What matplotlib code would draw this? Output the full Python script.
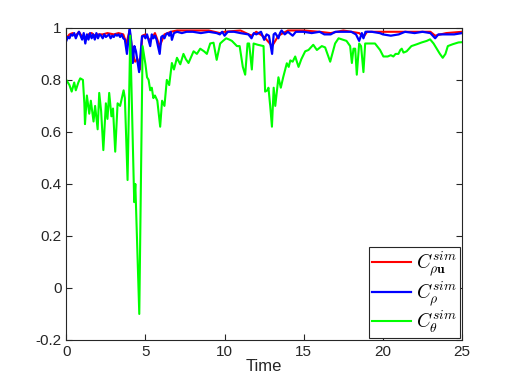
import numpy as np
import matplotlib
matplotlib.use("Agg")
import matplotlib.pyplot as plt

plt.rcParams['font.family'] = ['Liberation Sans', 'DejaVu Sans']
plt.rcParams['mathtext.fontset'] = 'cm'

# ------------------------
# Data
# ------------------------
t_green = [0.0, 0.2, 0.34, 0.5, 0.6, 0.76, 0.88, 1.05, 1.14, 1.18, 1.3, 1.45, 1.55, 1.72,
           1.82, 1.98, 2.08, 2.2, 2.34, 2.5, 2.6, 2.71, 2.85, 2.95, 3.09, 3.24, 3.4, 3.62,
           3.7, 3.87, 4.04, 4.29, 4.36, 4.61, 4.82, 5.0, 5.1, 5.2, 5.3, 5.4, 5.5, 5.6, 5.75,
           5.93, 6.05, 6.2, 6.35, 6.5, 6.67, 6.8, 6.99, 7.2, 7.4, 7.55, 7.72, 8.04, 8.25,
           8.46, 8.7, 8.88, 9.09, 9.3, 9.5, 9.72, 9.9, 10.1, 10.3, 10.46, 10.78, 10.95, 11.15,
           11.3, 11.45, 11.55, 11.72, 11.83, 12.1, 12.46, 12.56, 12.7, 12.77, 12.88, 12.99,
           13.1, 13.2, 13.4, 13.55, 13.7, 13.93, 14.05, 14.15, 14.3, 14.46, 14.67, 14.85,
           15.09, 15.3, 15.6, 15.83, 16.14, 16.35, 16.67, 16.98, 17.2, 17.45, 17.7, 17.93,
           18.04, 18.14, 18.25, 18.35, 18.5, 18.62, 18.77, 18.88, 19.2, 19.5, 19.82, 20.03,
           20.3, 20.5, 20.66, 20.8, 20.98, 21.1, 21.19, 21.3, 21.5, 21.8, 22.14, 22.45, 22.77,
           22.98, 23.2, 23.4, 23.6, 23.78, 23.95, 24.1, 24.4, 24.77, 25.0]
c_theta = [0.80, 0.78, 0.755, 0.79, 0.76, 0.79, 0.806, 0.80, 0.71, 0.63, 0.74, 0.67, 0.72, 0.64,
           0.70, 0.61, 0.75, 0.68, 0.53, 0.71, 0.65, 0.75, 0.66, 0.69, 0.524, 0.71, 0.70, 0.76,
           0.73, 0.415, 0.97, 0.33, 0.40, -0.10, 0.93, 0.86, 0.81, 0.80, 0.76, 0.77, 0.73, 0.74,
           0.72, 0.62, 0.72, 0.70, 0.80, 0.78, 0.865, 0.84, 0.885, 0.86, 0.90, 0.88, 0.865,
           0.91, 0.90, 0.92, 0.91, 0.90, 0.94, 0.943, 0.877, 0.94, 0.95, 0.96, 0.955, 0.95,
           0.93, 0.93, 0.85, 0.82, 0.94, 0.94, 0.84, 0.94, 0.935, 0.93, 0.755, 0.76, 0.77,
           0.70, 0.62, 0.77, 0.70, 0.81, 0.77, 0.81, 0.864, 0.85, 0.875, 0.87, 0.89, 0.85,
           0.88, 0.91, 0.915, 0.935, 0.915, 0.93, 0.925, 0.87, 0.94, 0.96, 0.955, 0.95, 0.93,
           0.865, 0.92, 0.92, 0.82, 0.94, 0.93, 0.83, 0.94, 0.94, 0.94, 0.915, 0.89, 0.89,
           0.895, 0.89, 0.90, 0.90, 0.915, 0.92, 0.905, 0.91, 0.93, 0.937, 0.944, 0.95,
           0.956, 0.94, 0.92, 0.90, 0.885, 0.90, 0.93, 0.937, 0.944, 0.945]

t_blue = [0.0, 0.1, 0.2, 0.3, 0.4, 0.5, 0.6, 0.7, 0.8, 0.9, 1.0, 1.1, 1.2, 1.3, 1.4, 1.5,
          1.6, 1.7, 1.8, 1.9, 2.0, 2.1, 2.2, 2.3, 2.4, 2.5, 2.6, 2.7, 2.8, 2.9, 3.0, 3.1,
          3.2, 3.3, 3.4, 3.5, 3.6, 3.7, 3.83, 4.0, 4.1, 4.2, 4.3, 4.4, 4.5, 4.6, 4.78, 4.9,
          5.0, 5.1, 5.3, 5.4, 5.5, 5.6, 5.7, 5.9, 6.0, 6.1, 6.2, 6.3, 6.4, 6.5, 6.6, 6.67,
          6.8, 7.0, 7.3, 7.6, 8.0, 8.5, 9.0, 9.5, 9.7, 9.85, 10.0, 10.2, 10.6, 11.0, 11.5,
          11.7, 11.85, 12.0, 12.3, 12.5, 12.65, 12.8, 13.0, 13.1, 13.2, 13.4, 13.5, 13.6,
          13.8, 14.0, 14.3, 14.5, 15.0, 15.5, 16.0, 16.3, 16.7, 17.0, 17.5, 18.0, 18.3,
          18.5, 18.67, 18.77, 18.9, 19.3, 19.8, 20.0, 20.5, 21.0, 21.4, 22.0, 22.5, 23.0,
          23.3, 23.5, 24.0, 24.5, 25.0]
c_rho = [0.95, 0.965, 0.96, 0.975, 0.97, 0.98, 0.96, 0.975, 0.985, 0.97, 0.955, 0.98, 0.94,
         0.975, 0.955, 0.98, 0.96, 0.975, 0.955, 0.98, 0.96, 0.975, 0.97, 0.96, 0.975, 0.965,
         0.97, 0.975, 0.96, 0.97, 0.965, 0.975, 0.97, 0.975, 0.965, 0.975, 0.96, 0.955, 0.90,
         1.0, 0.95, 0.865, 0.93, 0.91, 0.87, 0.83, 0.967, 0.97, 0.96, 0.975, 0.93, 0.975,
         0.96, 0.97, 0.955, 0.90, 0.965, 0.97, 0.96, 0.975, 0.98, 0.97, 0.985, 0.954,
         0.98, 0.985, 0.98, 0.985, 0.985, 0.98, 0.985, 0.98, 0.975, 0.985, 0.97, 0.985,
         0.985, 0.98, 0.975, 0.96, 0.98, 0.975, 0.985, 0.954, 0.975, 0.97, 0.90, 0.975,
         0.98, 0.96, 0.98, 0.99, 0.975, 0.985, 0.97, 0.985, 0.985, 0.98, 0.985, 0.975,
         0.975, 0.985, 0.985, 0.985, 0.975, 0.95, 0.98, 0.96, 0.985, 0.985, 0.98, 0.975,
         0.97, 0.975, 0.985, 0.98, 0.985, 0.98, 0.96, 0.975, 0.975, 0.975, 0.98]

t_red = [0.0, 0.2, 0.4, 0.6, 0.8, 1.0, 1.2, 1.4, 1.6, 1.8, 2.0, 2.3, 2.6, 3.0, 3.3, 3.6,
         3.8, 4.0, 4.2, 4.35, 4.5, 4.65, 4.8, 5.0, 5.3, 5.6, 5.9, 6.2, 6.6, 7.0, 8.0, 9.0,
         9.7, 10.0, 11.0, 11.7, 12.0, 12.5, 13.0, 13.4, 14.0, 15.0, 16.0, 16.7, 17.5, 18.5,
         18.77, 19.0, 20.0, 21.0, 22.0, 23.0, 23.3, 24.0, 25.0]
c_rhou = [0.96, 0.975, 0.98, 0.97, 0.985, 0.965, 0.96, 0.975, 0.98, 0.97, 0.975, 0.975, 0.98,
          0.975, 0.98, 0.975, 0.94, 0.99, 0.90, 0.87, 0.88, 0.84, 0.97, 0.975, 0.95, 0.98,
          0.93, 0.975, 0.985, 0.99, 0.99, 0.99, 0.98, 0.985, 0.99, 0.97, 0.985, 0.965, 0.93,
          0.97, 0.99, 0.99, 0.985, 0.98, 0.99, 0.98, 0.965, 0.985, 0.985, 0.985, 0.985,
          0.985, 0.97, 0.98, 0.985]

# ------------------------
# Plot
# ------------------------
fig = plt.figure(figsize=(5.1, 3.82), dpi=100)
ax = fig.add_axes([0.13, 0.11, 0.776, 0.817])

ax.plot(t_red, c_rhou, color='red', lw=1.5, label=r'$C_{\rho\mathbf{u}}^{sim}$')
ax.plot(t_blue, c_rho, color='blue', lw=1.6, label=r'$C_{\rho}^{sim}$')
ax.plot(t_green, c_theta, color=(0, 1, 0), lw=1.5, label=r'$C_{\theta}^{sim}$')

ax.set_xlim(0, 25)
ax.set_ylim(-0.2, 1)
ax.set_xticks([0, 5, 10, 15, 20, 25])
ax.set_yticks([-0.2, 0, 0.2, 0.4, 0.6, 0.8, 1])
ax.set_yticklabels(['-0.2', '0', '0.2', '0.4', '0.6', '0.8', '1'])
ax.set_xlabel('Time', fontsize=12, color='0.15', labelpad=0)

gray = '0.15'
for s in ax.spines.values():
    s.set_color(gray)
    s.set_linewidth(0.8)
ax.tick_params(direction='in', top=True, right=True, length=4, width=0.8,
               colors=gray, labelsize=11, labelcolor=gray)

leg = ax.legend(loc='lower right', fontsize=14, fancybox=False, framealpha=1,
                edgecolor=gray, handlelength=2.0, borderpad=0.15, labelspacing=0.05,
                handletextpad=0.25, borderaxespad=0.1)
leg.get_frame().set_linewidth(0.8)

fig.savefig('out.png', dpi=100)
